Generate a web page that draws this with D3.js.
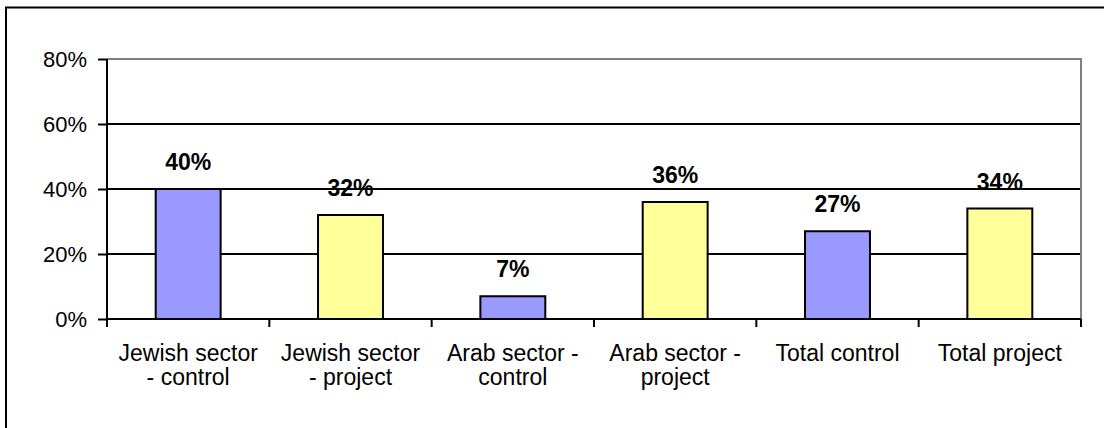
<!DOCTYPE html>
<html>
<head>
<meta charset="utf-8">
<script src="https://cdn.jsdelivr.net/npm/d3@7"></script>
<style>
  html, body { margin: 0; padding: 0; background: #fff; }
  svg { display: block; font-family: "Liberation Sans", Arial, sans-serif; }
</style>
</head>
<body>
<svg id="chart" width="1104" height="428"></svg>
<script>
const categories = [
  "Jewish sector\n- control",
  "Jewish sector\n- project",
  "Arab sector -\ncontrol",
  "Arab sector -\nproject",
  "Total control",
  "Total project"
];
const values = [0.40, 0.32, 0.07, 0.36, 0.27, 0.34];
const groups = ["control", "project", "control", "project", "control", "project"];
const yTicks = [0, 0.2, 0.4, 0.6, 0.8];
const colors = { control: "#9999FF", project: "#FFFF99" };

const svg = d3.select("#chart");
const W = 1104, H = 428;
const plot = { left: 107, right: 1081, top: 59, bottom: 319 };

svg.append("rect").attr("width", W).attr("height", H).attr("fill", "#fff");
// outer chart frame
svg.append("rect")
  .attr("x", 6).attr("y", 7.5).attr("width", 1200).attr("height", 1200)
  .attr("fill", "none").attr("stroke", "#000").attr("stroke-width", 2);

const x = d3.scaleBand().domain(categories).range([plot.left, plot.right]).padding(0);
const y = d3.scaleLinear().domain([0, 0.8]).range([plot.bottom, plot.top]);
const barW = x.bandwidth() * 0.4;

// value labels (drawn under gridlines, as in the reference)
svg.append("g").selectAll("text").data(values).join("text")
  .attr("x", (d, i) => x(categories[i]) + x.bandwidth() / 2)
  .attr("y", d => y(d) - 19)
  .attr("text-anchor", "middle")
  .attr("font-size", 23).attr("font-weight", "bold").attr("fill", "#000")
  .text(d => d3.format(".0%")(d));

// gridlines
svg.append("g").selectAll("line").data(yTicks.filter(t => t > 0 && t < 0.8)).join("line")
  .attr("x1", plot.left).attr("x2", plot.right)
  .attr("y1", d => y(d)).attr("y2", d => y(d))
  .attr("stroke", "#000").attr("stroke-width", 2);

// plot area border (top & right, gray)
svg.append("path")
  .attr("d", `M${plot.left},${y(0.8)}H${plot.right}V${plot.bottom}`)
  .attr("fill", "none").attr("stroke", "#808080").attr("stroke-width", 2);

// bars
svg.append("g").selectAll("rect").data(values).join("rect")
  .attr("x", (d, i) => x(categories[i]) + (x.bandwidth() - barW) / 2)
  .attr("y", d => y(d))
  .attr("width", barW)
  .attr("height", d => y(0) - y(d))
  .attr("fill", (d, i) => colors[groups[i]])
  .attr("stroke", "#000").attr("stroke-width", 2);

// y axis
const yAxis = d3.axisLeft(y).tickValues(yTicks).tickFormat(d3.format(".0%")).tickSize(9).tickPadding(11);
const gy = svg.append("g").attr("transform", `translate(${plot.left},0)`).call(yAxis);
gy.select(".domain").attr("stroke", "#000").attr("stroke-width", 2).attr("d", `M0,${plot.top}V${plot.bottom}`);
gy.selectAll(".tick line").attr("stroke", "#000").attr("stroke-width", 2);
gy.selectAll(".tick text").attr("font-size", 22).attr("fill", "#000")
  .attr("font-family", "'Liberation Sans', Arial, sans-serif");

// x axis line and ticks at band boundaries
const gx = svg.append("g");
gx.append("line").attr("x1", plot.left).attr("x2", plot.right)
  .attr("y1", plot.bottom).attr("y2", plot.bottom)
  .attr("stroke", "#000").attr("stroke-width", 2);
const boundaries = categories.map(c => x(c)).concat([plot.right]);
gx.selectAll("line.tk").data(boundaries).join("line").attr("class", "tk")
  .attr("x1", d => d).attr("x2", d => d)
  .attr("y1", plot.bottom).attr("y2", plot.bottom + 8)
  .attr("stroke", "#000").attr("stroke-width", 2);

const lbl = gx.selectAll("text").data(categories).join("text")
  .attr("text-anchor", "middle")
  .attr("font-size", 23).attr("fill", "#000")
  .attr("transform", d => `translate(${x(d) + x.bandwidth() / 2},0)`);
lbl.each(function(d) {
  const lines = d.split("\n");
  d3.select(this).selectAll("tspan").data(lines).join("tspan")
    .attr("x", 0).attr("y", (l, i) => 361 + i * 24).text(l => l);
});
</script>
</body>
</html>
